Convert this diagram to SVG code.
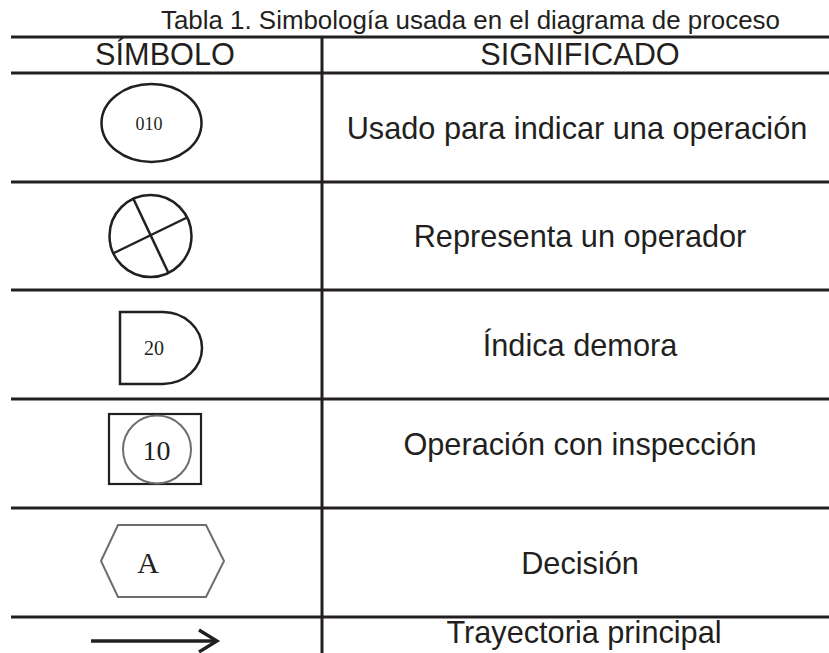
<svg xmlns="http://www.w3.org/2000/svg" width="829" height="653" viewBox="0 0 829 653">
<style>
.grid{stroke:#231f20;stroke-width:3;fill:none}
.sym{stroke:#231f20;stroke-width:2.5;fill:none}
.gray{stroke:#6d6d6d;stroke-width:2;fill:none}
.t{font-family:"Liberation Sans",Arial,sans-serif;fill:#231f20}
.big{font-size:30.7px;text-anchor:middle}
.serif{font-family:"Liberation Serif","Times New Roman",serif;fill:#231f20;text-anchor:middle}
</style>
<rect width="829" height="653" fill="#fff"/>
<text class="t" x="161" y="29" font-size="25.9">Tabla 1. Simbología usada en el diagrama de proceso</text>
<g id="grid">
<line class="grid" x1="11" y1="37" x2="829" y2="37"/>
<line class="grid" x1="11" y1="73" x2="829" y2="73"/>
<line class="grid" x1="11" y1="182" x2="829" y2="182"/>
<line class="grid" x1="11" y1="290" x2="829" y2="290"/>
<line class="grid" x1="11" y1="399" x2="829" y2="399"/>
<line class="grid" x1="11" y1="508" x2="829" y2="508"/>
<line class="grid" x1="11" y1="617" x2="829" y2="617"/>
<line class="grid" x1="322" y1="37" x2="322" y2="653"/>
</g>
<g id="header">
<text class="t big" x="165" y="65">SÍMBOLO</text>
<text class="t big" x="580" y="65">SIGNIFICADO</text>
</g>
<g id="row-operacion">
<ellipse class="sym" cx="151.5" cy="123" rx="50" ry="39"/>
<text class="serif" x="149" y="130" font-size="18">010</text>
<text class="t big" x="577" y="139">Usado para indicar una operación</text>
</g>
<g id="row-operador">
<circle class="sym" cx="150.5" cy="236" r="41"/>
<line class="sym" x1="133" y1="198" x2="168" y2="272"/>
<line class="sym" x1="114" y1="253" x2="186" y2="218"/>
<text class="t big" x="580" y="247">Representa un operador</text>
</g>
<g id="row-demora">
<path class="sym" d="M120,312 H163 A39,36 0 0 1 163,384 H120 Z"/>
<text class="serif" x="154" y="355" font-size="20">20</text>
<text class="t big" x="580" y="356">Índica demora</text>
</g>
<g id="row-inspeccion">
<rect x="109" y="414" width="92" height="70" fill="none" stroke="#231f20" stroke-width="2.2"/>
<circle class="gray" cx="157" cy="449.5" r="34"/>
<text class="serif" x="156.5" y="460" font-size="28">10</text>
<text class="t big" x="580" y="455">Operación con inspección</text>
</g>
<g id="row-decision">
<polygon class="gray" points="101,561 118,525 206,525 224,561 206,597 118,597"/>
<text class="serif" x="148" y="573" font-size="30">A</text>
<text class="t big" x="580" y="574">Decisión</text>
</g>
<g id="connectors">
<line x1="91" y1="641" x2="216" y2="641" stroke="#231f20" stroke-width="3.3"/>
<polyline points="199,630 217,641 199,652" fill="none" stroke="#231f20" stroke-width="3.3"/>
</g>
<g id="row-trayectoria">
<text class="t big" x="584" y="643">Trayectoria principal</text>
</g>
</svg>
